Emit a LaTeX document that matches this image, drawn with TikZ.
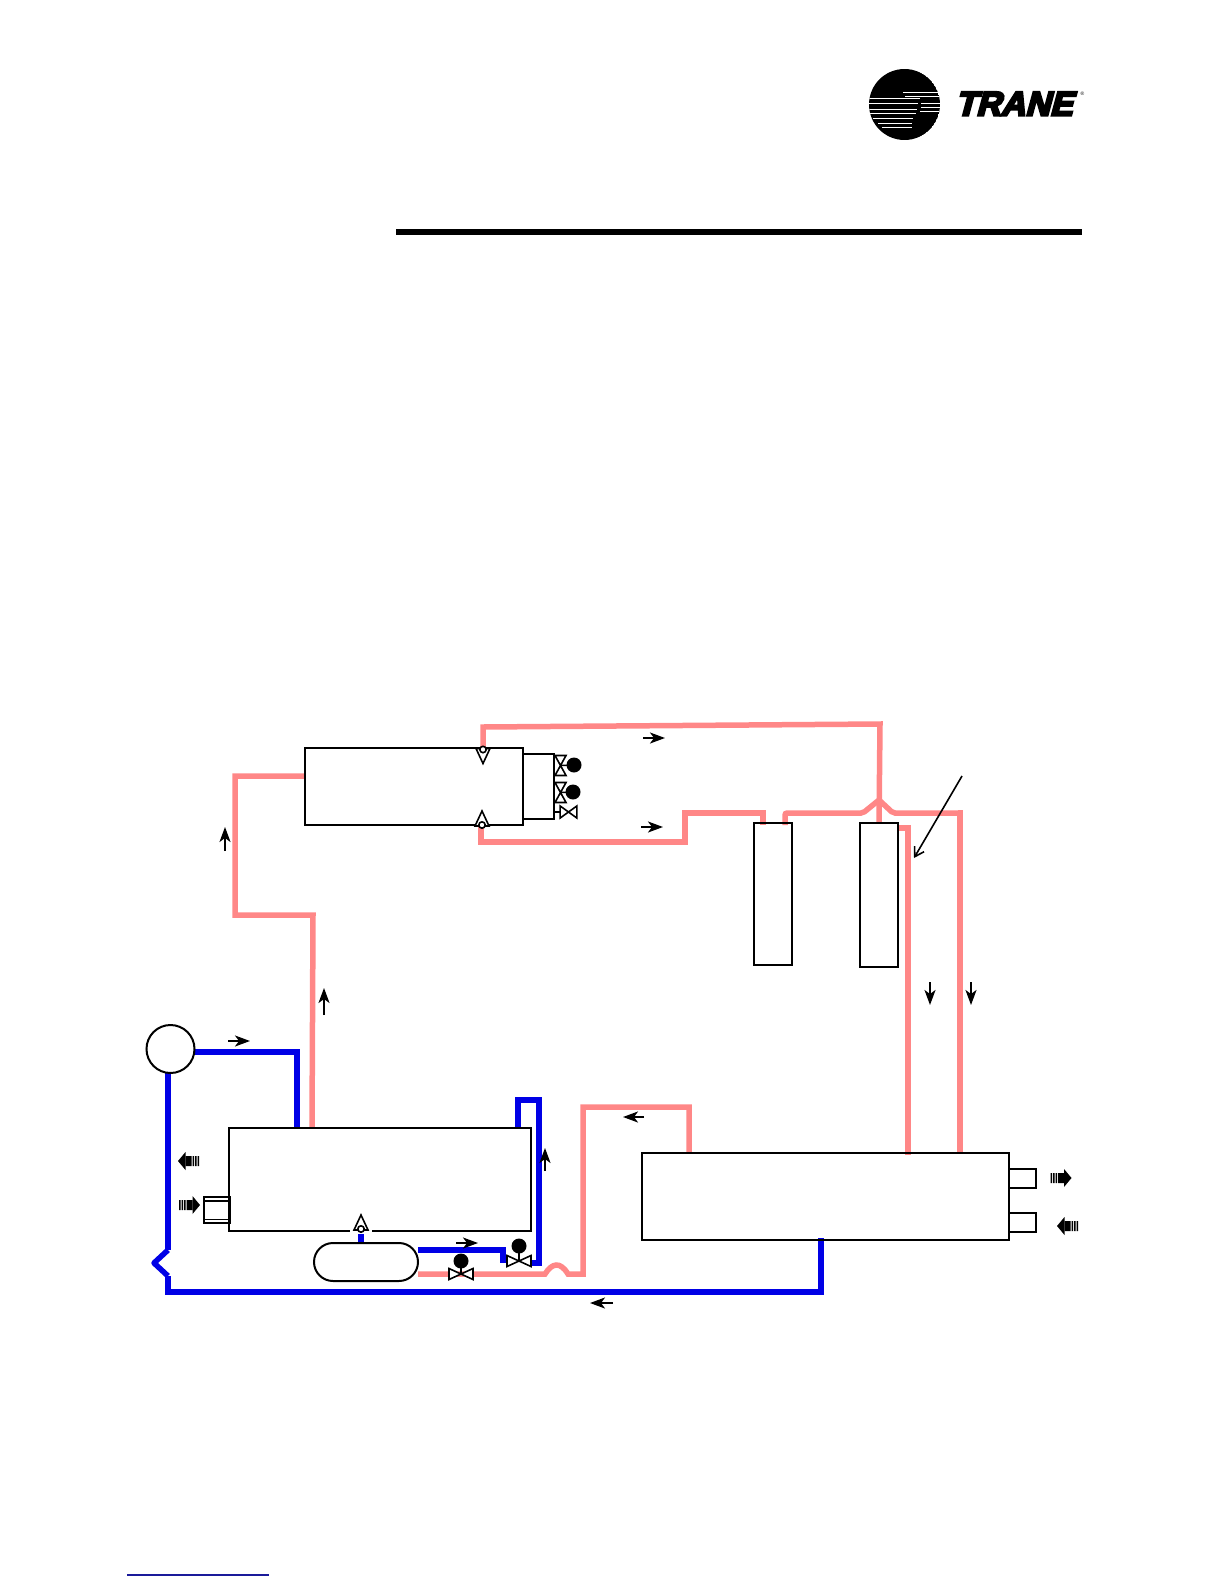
\documentclass[tikz,border=0pt]{standalone}
\usepackage{fontspec}
\usetikzlibrary{arrows.meta,calc}
\newfontfamily\logofont[UprightFont=* Bold,FakeBold=7,FakeSlant=0.27]{Liberation Sans}
\newfontfamily\regfont{Liberation Sans}
\definecolor{pipepink}{HTML}{FF8787}
\definecolor{pipeblue}{HTML}{0000E6}
\definecolor{linkblue}{HTML}{1A1A9A}
\tikzset{
  pinkpipe/.style={draw=pipepink,line width=5.5pt,line join=miter},
  bluepipe/.style={draw=pipeblue,line width=5.5pt,line join=miter},
  unitbox/.style={draw=black,line width=2pt,rectangle,inner sep=0pt,outer sep=0pt},
  flow/.style={draw=black,line width=1.8pt,-{Stealth[length=15pt,width=11pt,inset=4pt]}},
  thin part/.style={draw=black,line width=1.6pt,fill=white},
  bowtie/.pic={\draw[thin part,line join=miter] (-12,-5.5)--(12,5.5)--(12,-5.5)--(-12,5.5)--cycle;},
  checkvalve/.pic={
    \draw[thin part] (0,-15)--(7,0)--(-7,0)--cycle;
    \draw[thin part] (0,-1) circle (3.2);},
  hatcharrow/.pic={
    \fill[black] (-10.5,-5) rectangle (-9,5) (-8,-5) rectangle (-6.5,5) (-5.5,-5) rectangle (-4,5)
      (-3,-5) rectangle (3,5);
    \fill[black] (3,-9)--(10.5,0)--(3,9)--cycle;}
}
\begin{document}
\begin{tikzpicture}[x=1pt,y=-1pt]
\useasboundingbox (0,0) rectangle (1224,1584);
% logo
\begin{scope}
  \clip (904.5,104.5) circle (35.5);
  \fill[black] (904.5,104.5) circle (35.5);
  \foreach \yy/\xa/\xb/\w in {92/903/940/.7,96/905/940/.5,99/869/920/1,103/869/918/.9,
     109/869/917/.9,113/870/916/.9,118/873/913/.9,123/878/912/.7,127/882/912/.6,
     103/921/940/.5,107/921/940/.5,111/920/940/.5}
    \draw[white,line width=\w pt] (\xa,\yy)--(\xb,\yy);
\end{scope}
\node[inner sep=0pt,anchor=base west] (brand) at (955,115.5)
  {\logofont\fontsize{34}{34}\selectfont TRANE};
\node[inner sep=0pt] (regmark) at (1082.5,94) {\regfont\fontsize{5}{5}\selectfont ®};
% header rule and footer link
\coordinate (ruleL) at (396,232);
\coordinate (ruleR) at (1082,232);
\draw[black,line width=6pt] (ruleL)--(ruleR);
\coordinate (linkL) at (127,1575);
\coordinate (linkR) at (269,1575);
\draw[linkblue,line width=1.2pt] (linkL)--(linkR);

% end points of pipes
\coordinate (condIn) at (304,776);
\coordinate (compOut) at (312,1128);
\coordinate (condTop) at (483,748);
\coordinate (condBot) at (481,825);
\coordinate (headA) at (763,825);
\coordinate (headB) at (785,825);
\coordinate (headC) at (879,823);
\coordinate (headD) at (898,828);
\coordinate (evapA) at (908,1155);
\coordinate (evapB) at (960,1154);
\coordinate (evapC) at (689,1153);
\coordinate (evapD) at (821,1238);
\coordinate (recvB) at (418,1274);
\coordinate (recvU) at (418,1250);
\coordinate (recvT) at (361,1243);
\coordinate (compV) at (361,1232);
\coordinate (compC) at (297,1128);
\coordinate (compD) at (518,1128);
\coordinate (valveB) at (531,1263);
\coordinate (valveBin) at (503,1263);

% pink pipes
\draw[pinkpipe] (condIn)--(235,776)--(235,915)--(313,915)--(compOut);
\draw[pinkpipe] (condTop)--(483,727)--(880,724)--(headC);
\draw[pinkpipe] (condBot)--(481,842)--(685,842)--(685,813)--(763,813)--(headA);
\draw[pinkpipe,rounded corners=2pt] (headB)--(785,813)--(863,813)--(879,800)--(893,813)--(960,813);
\draw[pinkpipe] (958,813)--(960,813)--(evapB);
\draw[pinkpipe] (headD)--(908,828)--(evapA);
\draw[pinkpipe] (recvB)--(545,1274) .. controls (552,1263) and (560,1261) .. (568,1274)--(583,1274)--(583,1107)--(689,1107)--(evapC);
% blue pipes
\draw[bluepipe] (194,1052)--(297,1052)--(compC);
\draw[bluepipe] (168,1073)--(168,1250);
\draw[bluepipe,line join=round] (168,1250)--(154,1263)--(168,1276);
\draw[bluepipe] (168,1276)--(168,1292)--(821,1292)--(evapD);
\draw[bluepipe] (recvT)--(compV);
\draw[bluepipe] (recvU)--(503,1250)--(valveBin);
\draw[bluepipe] (valveB)--(539,1263)--(539,1100)--(518,1100)--(compD);

% boxes
\node[unitbox,minimum width=218pt,minimum height=77pt] (condenser) at (413.5,786.5) {};
\node[unitbox,minimum width=31pt,minimum height=65pt] (oilbox) at (538,786.5) {};
\node[unitbox,minimum width=38pt,minimum height=142pt] (headerL) at (773,894) {};
\node[unitbox,minimum width=38pt,minimum height=144pt] (headerR) at (879,895) {};
\node[unitbox,minimum width=302pt,minimum height=103pt] (compressor) at (380,1179.5) {};
\node[unitbox,minimum width=367pt,minimum height=87pt] (evaporator) at (825.5,1196.5) {};
\node[unitbox,minimum width=27pt,minimum height=19pt] (stubA) at (1022.5,1178.5) {};
\node[unitbox,minimum width=27pt,minimum height=19pt] (stubB) at (1022.5,1222.5) {};
\node[unitbox,minimum width=26pt,minimum height=26pt] (stubC) at (217,1210) {};
\draw[black,line width=1.2pt] (stubC.west |- 0,1201)--(stubC.east |- 0,1201);
\draw[black,line width=1.2pt] (stubC.west |- 0,1219.5)--(stubC.east |- 0,1219.5);
\node[draw=black,line width=2pt,circle,fill=white,inner sep=0pt,minimum size=48pt] (motor) at (170.5,1049) {};
\node[draw=black,line width=2pt,rectangle,rounded corners=19pt,fill=white,inner sep=0pt,
  minimum width=104pt,minimum height=38pt] (receiver) at (366,1262) {};

% check valves
\fill[white] (350,1228) rectangle (372,1234);
\pic at (361,1230) {checkvalve};
\pic[yscale=-1] at (483,748.5) {checkvalve};
\pic at (482,826) {checkvalve};

% valves with balls
\pic at (519,1261) {bowtie};
\fill[black] (519,1246) circle (7.5);
\draw[black,line width=1.5pt] (519,1246)--(519,1261);
\pic at (461,1274) {bowtie};
\fill[black] (461,1261) circle (7.5);
\draw[black,line width=1.5pt] (461,1261)--(461,1274);
\pic[rotate=90,xscale=.83,yscale=1] at (560.5,765.5) {bowtie};
\fill[black] (574,765) circle (7.5);
\draw[black,line width=1.5pt] (560.5,765.5)--(574,765);
\pic[rotate=90,xscale=.83,yscale=1] at (560.5,792.5) {bowtie};
\fill[black] (573,792) circle (7.5);
\draw[black,line width=1.5pt] (560.5,792.5)--(573,792);
\draw[black,line width=1.5pt] (553,812)--(561,812);
\pic[xscale=.7,yscale=1.1] at (568.5,812) {bowtie};

% flow arrows
\coordinate (f1a) at (643,738); \coordinate (f1b) at (665,738);
\draw[flow] (f1a)--(f1b);
\coordinate (f2a) at (641,827); \coordinate (f2b) at (663,827);
\draw[flow] (f2a)--(f2b);
\coordinate (f3a) at (225,851); \coordinate (f3b) at (225,827);
\draw[flow] (f3a)--(f3b);
\coordinate (f4a) at (324,1015); \coordinate (f4b) at (324,988);
\draw[flow] (f4a)--(f4b);
\coordinate (f5a) at (930,982); \coordinate (f5b) at (930,1005);
\draw[flow] (f5a)--(f5b);
\coordinate (f6a) at (971,982); \coordinate (f6b) at (971,1005);
\draw[flow] (f6a)--(f6b);
\coordinate (f7a) at (228,1041); \coordinate (f7b) at (250,1041);
\draw[flow] (f7a)--(f7b);
\coordinate (f8a) at (545,1171); \coordinate (f8b) at (545,1148);
\draw[flow] (f8a)--(f8b);
\coordinate (f9a) at (644,1117); \coordinate (f9b) at (623,1117);
\draw[flow] (f9a)--(f9b);
\coordinate (f10a) at (613,1303); \coordinate (f10b) at (590,1303);
\draw[flow] (f10a)--(f10b);
\coordinate (f11a) at (456,1243); \coordinate (f11b) at (478,1243);
\draw[flow] (f11a)--(f11b);

% hatched water arrows
\pic[xscale=-1] at (188.5,1161) {hatcharrow};
\pic at (189.5,1205) {hatcharrow};
\pic at (1061,1178) {hatcharrow};
\pic[xscale=-1] at (1067.5,1226) {hatcharrow};

% leader
\coordinate (leadA) at (962,776);
\coordinate (leadB) at (914,858);
\draw[black,line width=1.6pt,-{Straight Barb[length=9pt,width=11pt]}] (leadA)--(leadB);
\end{tikzpicture}
\end{document}
